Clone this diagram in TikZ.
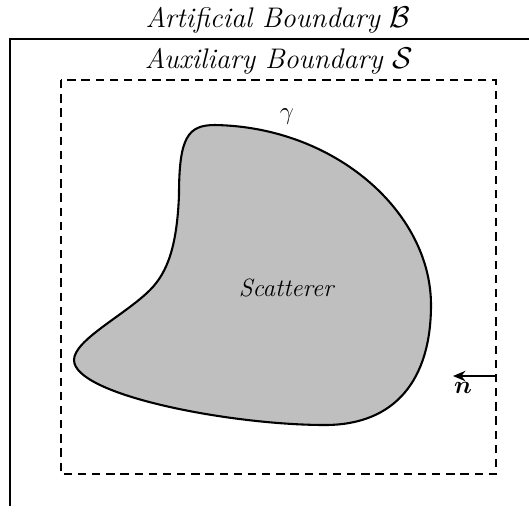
\documentclass[tikz,border=0pt]{standalone}
\usepackage{bm}
\usetikzlibrary{arrows.meta}
\begin{document}
\begin{tikzpicture}[x=0.48pt,y=-0.48pt,
  outer/.style={line width=0.8pt},
  aux/.style={line width=0.9pt,dash pattern=on 4pt off 2.8pt},
  body/.style={line width=1pt,fill=black!25},
  lbl/.style={font=\fontsize{13.6}{16}\selectfont}]
\useasboundingbox (0,0) rectangle (529,514);
\draw[outer] (535,39) -- (10,39) -- (10,506);
\draw[aux] (61,80) rectangle (496,474);
\draw[body] (215,125)
  .. controls (335,127) and (431,212) .. (431,305)
  .. controls (431,380) and (395,425) .. (325,425)
  .. controls (230,425) and (74,395) .. (74,360)
  .. controls (74,340) and (125,315) .. (150,290)
  .. controls (168,272) and (177,245) .. (179,195)
  .. controls (179,137) and (188,125) .. (215,125) -- cycle;
\node[lbl] (B) at (278,20) {\textit{Artificial Boundary} $\mathcal{B}$};
\node[lbl] (S) at (279,61) {\textit{Auxiliary Boundary} $\mathcal{S}$};
\node[font=\large] (gam) at (287,117) {$\gamma$};
\node[font=\large] (sc) at (287,288) {\textit{Scatterer}};
\coordinate (a0) at (496,376);
\coordinate (a1) at (453,376);
\draw[line width=0.8pt,-{Stealth[length=6pt,width=5pt]}] (a0) -- (a1);
\node[font=\large] (n) at (463,388) {$\bm{n}$};
\end{tikzpicture}
\end{document}
